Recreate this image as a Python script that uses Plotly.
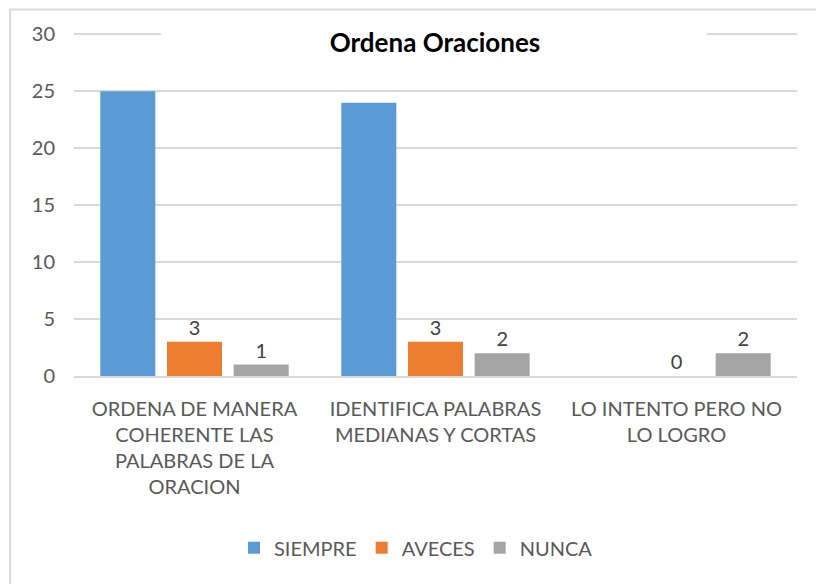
import plotly.graph_objects as go

categories = [
    "ORDENA DE MANERA<br>COHERENTE LAS<br>PALABRAS DE LA<br>ORACION",
    "IDENTIFICA PALABRAS<br>MEDIANAS Y CORTAS",
    "LO INTENTO PERO NO<br>LO LOGRO",
]
siempre = [25, 24, None]
aveces = [3, 3, 0]
nunca = [1, 2, 2]
y_ticks = [0, 5, 10, 15, 20, 25, 30]

FONT = "Lato, 'Open Sans', sans-serif"
OFF = 8  # page body margin
W, H = 824 - OFF, 584 - OFF
Y_TOP = 30.3
SCALE = (376 - 34) / 30.0            # px per unit in reference
TOP_PX = 34 - (Y_TOP - 30) * SCALE   # page px of plot top
ML = 74 - OFF
MT = TOP_PX - OFF
MR = W - (797 - OFF)
MB = H - (376 - OFF)
PW, PH = W - ML - MR, H - MT - MB

def px_x(px):
    return (px - OFF - ML) / PW

def px_y(py):
    return (H - MB - (py - OFF)) / PH

fig = go.Figure()
fig.add_trace(go.Bar(name="SIEMPRE", x=categories, y=siempre,
                     marker=dict(color="#5B9BD5", line=dict(width=0))))
fig.add_trace(go.Bar(name="AVECES", x=categories, y=aveces,
                     marker=dict(color="#ED7D31", line=dict(width=0)),
                     text=aveces, textposition="outside",
                     textfont=dict(size=20, color="#404040", family=FONT),
                     cliponaxis=False))
fig.add_trace(go.Bar(name="NUNCA", x=categories, y=nunca,
                     marker=dict(color="#A5A5A5", line=dict(width=0)),
                     text=nunca, textposition="outside",
                     textfont=dict(size=20, color="#404040", family=FONT),
                     cliponaxis=False))

fig.update_layout(
    width=W, height=H,
    margin=dict(l=ML, r=MR, t=MT, b=MB, autoexpand=False),
    paper_bgcolor="white", plot_bgcolor="white",
    barmode="group", bargap=0.17, bargroupgap=0.175,
    font=dict(family=FONT, size=20, color="#595959"),
    title=dict(text="<b>Ordena Oraciones</b>", x=px_x(435), xref="paper",
               xanchor="center", y=1 - (43 - OFF) / H, yanchor="middle",
               font=dict(size=26, color="#000000", family=FONT)),
    showlegend=True,
    legend=dict(orientation="h", x=px_x(416), xanchor="center",
                y=px_y(548), yanchor="middle",
                font=dict(size=20, color="#595959", family=FONT),
                itemwidth=30, tracegroupgap=0, traceorder="normal"),
)
fig.update_yaxes(range=[0, Y_TOP], tickvals=y_ticks, showgrid=True,
                 gridcolor="#D9D9D9", gridwidth=1.5, zeroline=False,
                 showline=False, ticks="", ticklabelstandoff=18,
                 tickfont=dict(size=20, color="#595959"))
fig.update_xaxes(showgrid=False, showline=True, linecolor="#D9D9D9",
                 linewidth=1.5, ticks="", ticklabelstandoff=14,
                 tickfont=dict(size=20, color="#595959"), tickangle=0)

# white box behind the title interrupting the top gridline
fig.add_shape(type="rect", xref="paper", yref="paper",
              x0=px_x(161), x1=px_x(707), y0=px_y(52), y1=px_y(20),
              fillcolor="white", line=dict(width=0), layer="above")
# chart border
fig.add_shape(type="rect", xref="paper", yref="paper",
              x0=px_x(10), x1=px_x(840), y0=px_y(600), y1=px_y(OFF + 1),
              fillcolor="rgba(0,0,0,0)", line=dict(color="#D9D9D9", width=2),
              layer="below")

fig.write_html("out.html")
